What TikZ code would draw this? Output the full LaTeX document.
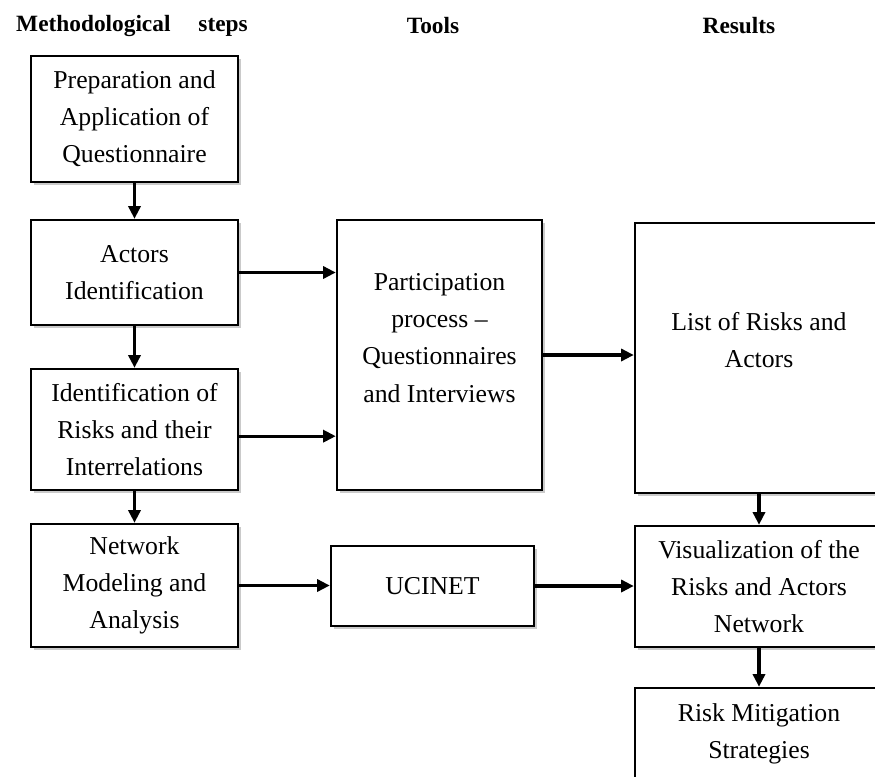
\documentclass[tikz,border=0pt]{standalone}
\usepackage{fontspec}
\setmainfont{Liberation Serif}
\usetikzlibrary{arrows.meta, positioning, shadows}

\begin{document}
\begin{tikzpicture}[x=0.75pt, y=-0.75pt, >={Triangle[length=9.5pt,width=9pt]},
		font=\fontsize{19.3}{27.8}\selectfont,
		stepbox/.style={draw, line width=1.8pt, fill=white, align=center, inner sep=0pt,
			drop shadow={shadow xshift=2.5pt, shadow yshift=-2.5pt, fill=black!60, opacity=0.35}},
		boxtext/.style={align=center},
		head/.style={font=\fontsize{17.5}{18}\selectfont\bfseries},
		link/.style={->, line width=2.4pt}]
			\useasboundingbox (0,0) rectangle (875,776);
			\clip (0,0) rectangle (875,776);
			\node[head] (hsteps) at (132,26) {Methodological\hspace{1.2em}steps};
			\node[head] (htools) at (433,26) {Tools};
			\node[head] (hres) at (739,26) {Results};
			\node[stepbox, minimum width=155.25pt, minimum height=94.5pt] (prep) at (134.5,119)
			{Preparation and\\ Application of\\ Questionnaire};
			\node[stepbox, minimum width=155.25pt, minimum height=78.75pt] (actors) at (134.5,272.5)
			{Actors\\ Identification};
			\node[stepbox, minimum width=155.25pt, minimum height=90.75pt] (risks) at (134.5,429.5)
			{Identification of\\ Risks and their\\ Interrelations};
			\node[stepbox, minimum width=155.25pt, minimum height=92.25pt] (network) at (134.5,585.5)
			{Network\\ Modeling and\\ Analysis};
			\node[stepbox, minimum width=153.75pt, minimum height=202.5pt] (part) at (439.5,355) {};
			\node[boxtext, yshift=12.75pt] (parttext) at (part)
			{Participation\\ process –\\ Questionnaires\\ and Interviews};
			\node[stepbox, minimum width=152.25pt, minimum height=60pt] (ucinet) at (432.5,586) {UCINET};
			\node[stepbox, minimum width=186pt, minimum height=202.5pt] (list) at (759,358) {};
			\node[boxtext, yshift=13.5pt] (listtext) at (list) {List of Risks and\\ Actors};
			\node[stepbox, minimum width=186pt, minimum height=90.75pt] (vis) at (759,586.5)
			{Visualization of the\\ Risks and Actors\\ Network};
			\node[stepbox, minimum width=186pt, minimum height=69pt] (mitig) at (759,734)
			{Risk Mitigation\\ Strategies};
			\draw[link] (prep) -- (actors);
			\draw[link] (actors) -- (risks);
			\draw[link] (risks) -- (network);
			\draw[link] (actors.east) -- (actors.east -| part.west);
			\draw[link] ([yshift=-5pt]risks.east) -- ([yshift=-5pt]risks.east -| part.west);
			\draw[link] (part.east) -- (part.east -| list.west);
			\draw[link] (network.east) -- (network.east -| ucinet.west);
			\draw[link] (ucinet.east) -- (ucinet.east -| vis.west);
			\draw[link] (list) -- (vis);
			\draw[link] (vis) -- (mitig);
		\end{tikzpicture}
\end{document}
